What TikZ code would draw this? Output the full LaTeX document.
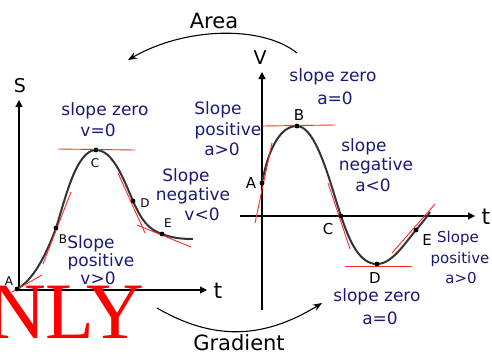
\documentclass[tikz,border=0pt]{standalone}
\usepackage{fontspec}
\setmainfont{DejaVu Sans}
\newfontfamily\wmfont{Liberation Serif}
\usetikzlibrary{arrows.meta}
\definecolor{navy}{HTML}{1B1A78}
\definecolor{tanred}{HTML}{FF2A2A}
\definecolor{curvegray}{HTML}{333333}
\begin{document}
\begin{tikzpicture}[x=1pt,y=-1pt,
  lab/.style={text=navy,font=\fontsize{17}{19}\selectfont,inner sep=0pt,text height=12pt,text depth=4pt},
  labs/.style={lab,font=\fontsize{15}{17}\selectfont},
  ptl/.style={text=black,font=\fontsize{12}{14}\selectfont,inner sep=0pt},
  ptr/.style={text=black,font=\fontsize{15}{17}\selectfont,inner sep=0pt},
  axl/.style={text=black,font=\fontsize{19}{21}\selectfont,inner sep=0pt},
  axt/.style={text=black,font=\fontsize{22}{24}\selectfont,inner sep=0pt},
  ttl/.style={text=black,font=\fontsize{21}{23}\selectfont,inner sep=0pt},
  dot/.style={circle,fill=black,inner sep=0pt,minimum size=4.6pt},
  axis/.style={line width=1.1pt,-{Triangle[length=7pt,width=7pt]}},
  tangent/.style={draw=tanred,line width=0.9pt},
  curve/.style={draw=curvegray,line width=2pt},
  flow/.style={line width=1.1pt,-{Stealth[length=9pt,width=7pt]}}]
\useasboundingbox (0,0) rectangle (492,356);
\fill[white] (0,0) rectangle (492,356);

% ---------- left graph: s-t ----------
\coordinate (lO) at (19,290);
\coordinate (lS) at (19,100);
\coordinate (lT) at (207,290);
\coordinate (lEnd) at (193,239);
\node[dot] (lA) at (17,289) {};
\node[dot] (lB) at (56,228) {};
\node[dot] (lC) at (96,150) {};
\node[dot] (lD) at (133,201) {};
\node[dot] (lE) at (162,234) {};

% tangents
\coordinate (lA1) at (12,292); \coordinate (lA2) at (42,275);
\coordinate (lB1) at (43,264); \coordinate (lB2) at (71,192);
\coordinate (lC1) at (58,149); \coordinate (lC2) at (135,150);
\coordinate (lD1) at (118,173); \coordinate (lD2) at (145,233);
\coordinate (lE1) at (137,225); \coordinate (lE2) at (191,247);

\draw[axis] (lO) -- (lS);
\draw[axis] (lO) -- (lT);
\draw[curve] (lA.center) .. controls (32,281) and (45,258) .. (lB.center)
  .. controls (65,200) and (76,150) .. (lC.center)
  .. controls (113,150) and (124,180) .. (lD.center)
  .. controls (142,221) and (148,229) .. (lE.center)
  .. controls (172,238) and (182,239) .. (lEnd);
\draw[tangent] (lA1) -- (lA2);
\draw[tangent] (lB1) -- (lB2);
\draw[tangent] (lC1) -- (lC2);
\draw[tangent] (lD1) -- (lD2);
\draw[tangent] (lE1) -- (lE2);
\node[dot] at (lA) {};\node[dot] at (lB) {};\node[dot] at (lC) {};\node[dot] at (lD) {};\node[dot] at (lE) {};

\node[axl] (lSl) at (20,86) {S};
\node[axt] (lTl) at (218,291) {t};
\node[ptl] (lAl) at (9,281) {A};
\node[ptl] (lBl) at (63,239) {B};
\node[ptl] (lCl) at (95,163) {C};
\node[ptl] (lDl) at (145,203) {D};
\node[ptl] (lEl) at (168,223) {E};

\node[lab] (lz1) at (105,111) {slope zero};
\node[lab] (lz2) at (98,132) {v=0};
\node[lab] (ln1) at (186,177) {Slope};
\node[lab] (ln2) at (193,196) {negative};
\node[lab] (ln3) at (202,216) {v<0};
\node[lab] (lp1) at (91,244) {Slope};
\node[lab] (lp2) at (101,262) {positive};
\node[lab] (lp3) at (98,280) {v>0};

% ---------- right graph: v-t ----------
\coordinate (rO) at (262,310);
\coordinate (rV) at (262,72);
\coordinate (rL) at (240,216);
\coordinate (rT) at (475,216);
\coordinate (rEnd) at (430,212);
\node[dot] (rA) at (262,183) {};
\node[dot] (rB) at (297,126) {};
\node[dot] (rC) at (341,216) {};
\node[dot] (rD) at (377,264) {};
\node[dot] (rE) at (416,230) {};

\coordinate (rA1) at (255,223); \coordinate (rA2) at (272,143);
\coordinate (rB1) at (263,126); \coordinate (rB2) at (335,125);
\coordinate (rC1) at (328,183); \coordinate (rC2) at (350,249);
\coordinate (rD1) at (345,266); \coordinate (rD2) at (412,266);
\coordinate (rE1) at (392,253); \coordinate (rE2) at (435,204);

\draw[axis] (rO) -- (rV);
\draw[axis] (rL) -- (rT);
\draw[curve] (rA.center) .. controls (267,155) and (278,126) .. (rB.center)
  .. controls (317,126) and (332,190) .. (rC.center)
  .. controls (350,243) and (360,264) .. (rD.center)
  .. controls (392,264) and (405,243) .. (rE.center)
  .. controls (422,223) and (426,218) .. (rEnd);
\draw[tangent] (rA1) -- (rA2);
\draw[tangent] (rB1) -- (rB2);
\draw[tangent] (rC1) -- (rC2);
\draw[tangent] (rD1) -- (rD2);
\draw[tangent] (rE1) -- (rE2);
\node[dot] at (rA) {};\node[dot] at (rB) {};\node[dot] at (rC) {};\node[dot] at (rD) {};\node[dot] at (rE) {};

\node[axl] (rVl) at (260,58) {V};
\node[axt] (rTl) at (486,217) {t};
\node[ptr] (rAl) at (251,183) {A};
\node[ptr] (rBl) at (299,115) {B};
\node[ptr] (rCl) at (328,229) {C};
\node[ptr] (rDl) at (375,278) {D};
\node[ptr] (rEl) at (427,240) {E};

\node[lab] (rz1) at (333,77) {slope zero};
\node[lab] (rz2) at (335,100) {a=0};
\node[lab] (rp1) at (218,110) {Slope};
\node[lab] (rp2) at (228,131) {positive};
\node[lab] (rp3) at (222,151) {a>0};
\node[lab] (rn1) at (364,147) {slope};
\node[lab] (rn2) at (376,166) {negative};
\node[lab] (rn3) at (373,187) {a<0};
\node[labs] (rq1) at (458,238) {Slope};
\node[labs] (rq2) at (460,259) {positive};
\node[labs] (rq3) at (461,279) {a>0};
\node[lab] (rd1) at (377,297) {slope zero};
\node[lab] (rd2) at (380,320) {a=0};

% ---------- relating arrows ----------
\coordinate (arS) at (297,53);
\coordinate (arE) at (128,60);
\draw[flow] (arS) .. controls (262,25) and (185,27) .. (arE);
\node[ttl] (area) at (214,21) {Area};
\coordinate (grS) at (157,308);
\coordinate (grE) at (322,303);
\draw[flow] (grS) .. controls (212,340) and (262,340) .. (grE);
\node[ttl] (grad) at (239,343) {Gradient};

% ---------- watermark ----------
\node[anchor=base west,text=red,font=\wmfont\fontsize{80}{80}\selectfont,inner sep=0pt] (wm) at (-12,338) {NLY};
\end{tikzpicture}
\end{document}
